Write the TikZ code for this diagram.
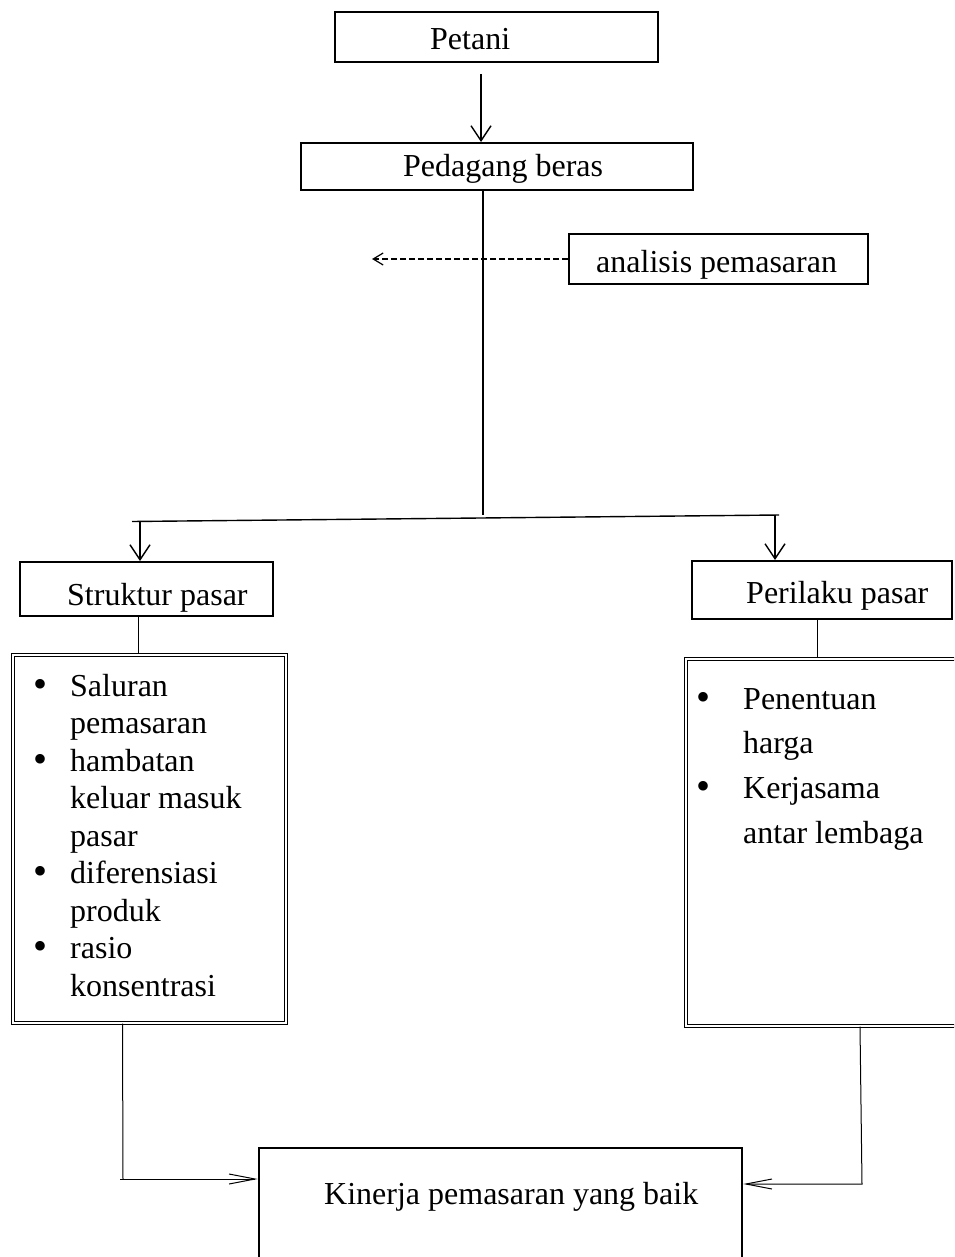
\documentclass[tikz,border=0pt]{standalone}
\usepackage{fontspec}
\setmainfont{Liberation Serif}
\usetikzlibrary{arrows.meta}
\begin{document}
\begin{tikzpicture}[x=1pt,y=-1pt,
  box/.style={draw,line width=2pt,rectangle,inner sep=0pt},
  dbox/.style={draw,line width=1.3pt,double,double distance=1.8pt,rectangle,inner sep=0pt},
  lbl/.style={anchor=base west,inner sep=0pt,font=\fontsize{32}{37.5}\selectfont},
  conn/.style={line width=1.4pt},
  thinconn/.style={line width=1pt},
  vtip/.style={-{Straight Barb[length=15pt,width=20pt,line width=1.4pt]}},
  dtip/.style={-{Straight Barb[length=10pt,width=12pt,line width=1.2pt]}},
  htip/.style={-{Straight Barb[length=26pt,width=10pt,line width=1pt]}}
]
\clip (0,0) rectangle (954,1257);
\fill[white] (0,0) rectangle (954,1257);

% boxes
\node[box,minimum width=323pt,minimum height=50pt] (petani) at (496.5,37) {};
\node[box,minimum width=392pt,minimum height=47pt] (pedagang) at (497,166.5) {};
\node[box,minimum width=299pt,minimum height=50pt] (analisis) at (718.5,259) {};
\node[box,minimum width=253pt,minimum height=54pt] (struktur) at (146.5,589) {};
\node[box,minimum width=260pt,minimum height=58pt] (perilaku) at (822,590) {};
\node[dbox,minimum width=273pt,minimum height=368pt] (leftlist) at (149.5,839) {};
\node[dbox,minimum width=304pt,minimum height=367pt] (rightlist) at (838,842.5) {};
\node[draw,line width=2.6pt,inner sep=0pt,minimum width=483pt,minimum height=152pt] (kinerja) at (500.5,1224) {};

% texts
\node[lbl] (tpetani) at (430,50) {Petani};
\node[lbl] (tpedagang) at (403,177) {Pedagang beras};
\node[lbl] (tanalisis) at (596,272) {analisis pemasaran};
\node[lbl] (tstruktur) at (67,605) {Struktur pasar};
\node[lbl] (tperilaku) at (746,603) {Perilaku pasar};
\node[lbl] (tkinerja) at (324,1204) {Kinerja pemasaran yang baik};

\node[lbl] (tleft) at (33,696) {\vtop{\baselineskip=37.5pt
  \hbox{\makebox[37pt][l]{\fontsize{40}{0}\selectfont\raisebox{-1pt}{•}}Saluran}
  \hbox{\hspace{37pt}pemasaran}
  \hbox{\makebox[37pt][l]{\fontsize{40}{0}\selectfont\raisebox{-1pt}{•}}hambatan}
  \hbox{\hspace{37pt}keluar masuk}
  \hbox{\hspace{37pt}pasar}
  \hbox{\makebox[37pt][l]{\fontsize{40}{0}\selectfont\raisebox{-1pt}{•}}diferensiasi}
  \hbox{\hspace{37pt}produk}
  \hbox{\makebox[37pt][l]{\fontsize{40}{0}\selectfont\raisebox{-1pt}{•}}rasio}
  \hbox{\hspace{37pt}konsentrasi}}};

\node[lbl] (tright) at (696,709) {\vtop{\baselineskip=44.7pt
  \hbox{\makebox[47pt][l]{\fontsize{40}{0}\selectfont\raisebox{-1pt}{•}}Penentuan}
  \hbox{\hspace{47pt}harga}
  \hbox{\makebox[47pt][l]{\fontsize{40}{0}\selectfont\raisebox{-1pt}{•}}Kerjasama}
  \hbox{\hspace{47pt}antar lembaga}}};

% connectors
\draw[conn,vtip] ([xshift=-15.5pt,yshift=-11pt]petani.south) -- ([xshift=-16pt]pedagang.north);
\coordinate (branch) at (483,515);
\draw[conn] ([xshift=-14pt]pedagang.south) -- (branch);
\coordinate (bl) at (132,521.5);
\coordinate (br) at (779,515);
\draw[conn] (bl) -- (br);
\coordinate (bla) at (140,521.3);
\coordinate (bra) at (775,515.1);
\draw[conn,vtip] (bla) -- ([xshift=-6.5pt]struktur.north);
\draw[conn,vtip] (bra) -- ([xshift=-47pt]perilaku.north);

\coordinate (dashend) at (372,259);
\draw[conn,dashed,dash pattern=on 6pt off 3pt,dtip] (analisis.west) -- (dashend);

\draw[thinconn] ([xshift=-8.5pt]struktur.south) -- ([xshift=-11.5pt]leftlist.north);
\draw[thinconn] ([xshift=-5pt]perilaku.south) -- ([xshift=-21pt]rightlist.north);

\coordinate (cl) at (123,1179);
\coordinate (clstart) at (120,1179);
\draw[thinconn] ([xshift=-27pt]leftlist.south) -- (cl);
\draw[thinconn,htip] (clstart) -- ([yshift=45pt]kinerja.west);

\coordinate (cr) at (862,1184);
\draw[thinconn,htip] ([xshift=22pt]rightlist.south) -- (cr) -- ([yshift=40pt]kinerja.east);
\end{tikzpicture}
\end{document}
